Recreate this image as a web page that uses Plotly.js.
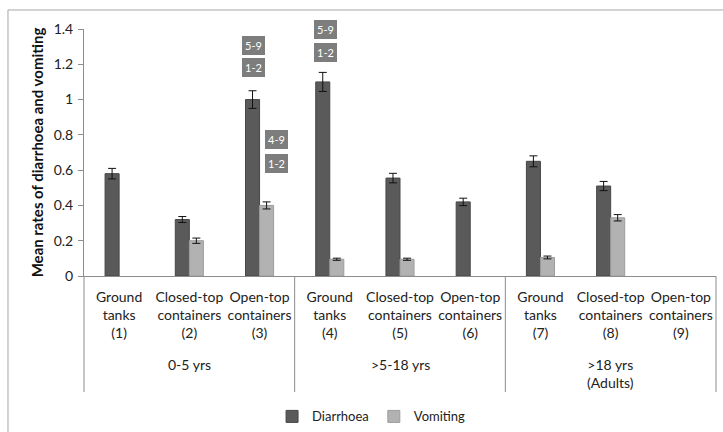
<!DOCTYPE html>
<html><head><meta charset="utf-8">
<script src="https://cdn.plot.ly/plotly-3.0.1.min.js"></script>
<style>html,body{margin:0;padding:0;background:#fff}#chart{width:723px;height:432px}</style>
</head><body><div id="chart"></div>
<script>
// ---- data ----
const categories = [
  "Ground<br>tanks<br>(1)", "Closed-top<br>containers<br>(2)", "Open-top<br>containers<br>(3)",
  "Ground<br>tanks<br>(4)", "Closed-top<br>containers<br>(5)", "Open-top<br>containers<br>(6)",
  "Ground<br>tanks<br>(7)", "Closed-top<br>containers<br>(8)", "Open-top<br>containers<br>(9)"
];
const groups = ["0-5 yrs", ">5-18 yrs", ">18 yrs<br>(Adults)"];
const groupSize = 3;
const diarrhoea    = [0.58, 0.32, 1.00, 1.10, 0.555, 0.42, 0.65, 0.51, null];
const diarrhoeaErr = [0.03, 0.017, 0.05, 0.054, 0.027, 0.021, 0.031, 0.026, null];
const vomiting     = [null, 0.20, 0.40, 0.095, 0.095, null, 0.105, 0.33, null];
const vomitingErr  = [null, 0.015, 0.02, 0.006, 0.006, null, 0.008, 0.018, null];
const seriesNames = ["Diarrhoea", "Vomiting"];
const sigLabels = [
  {cat: 3, series: 0, texts: ["5-9", "1-2"]},
  {cat: 4, series: 0, texts: ["5-9", "1-2"]},
  {cat: 3, series: 1, texts: ["4-9", "1-2"]}
];

// ---- chart ----
const FONT = "Lato, 'Open Sans', sans-serif";
const xIdx = categories.map((_, i) => i + 1);
const bargap = 0.6;
const barHalf = (1 - bargap) / 4; // offset of each bar centre from the category centre
const xRange = [0.5, categories.length + 0.5];
const toPaperX = v => (v - xRange[0]) / (xRange[1] - xRange[0]);

const traces = [
  {type: 'bar', name: seriesNames[0], x: xIdx, y: diarrhoea,
   marker: {color: '#5a5a5a', line: {color: '#474747', width: 1}},
   error_y: {type: 'data', array: diarrhoeaErr, visible: true, color: '#111', thickness: 1, width: 4}},
  {type: 'bar', name: seriesNames[1], x: xIdx, y: vomiting,
   marker: {color: '#b2b2b2', line: {color: '#9c9c9c', width: 1}},
   error_y: {type: 'data', array: vomitingErr, visible: true, color: '#111', thickness: 1, width: 4}}
];

// label placement (y in data units, horizontal nudge in px)
const sigY = [[1.304, 1.18], [1.395, 1.264], [0.771, 0.635]];
const sigShift = [1, 3, 10];
const annotations = [];
sigLabels.forEach((s, k) => {
  s.texts.forEach((t, j) => {
    annotations.push({
      x: s.cat + (s.series === 0 ? -barHalf : barHalf), y: sigY[k][j], xshift: sigShift[k],
      xref: 'x', yref: 'y', text: t, showarrow: false,
      font: {family: FONT, size: 11, color: '#ffffff'},
      bgcolor: '#7d7d7d', bordercolor: '#7d7d7d', borderwidth: 1, borderpad: 2,
      xanchor: 'center', yanchor: 'middle'
    });
  });
});
groups.forEach((g, i) => {
  const mid = i * groupSize + (groupSize + 1) / 2;
  annotations.push({
    x: toPaperX(mid), y: -0.315, xref: 'paper', yref: 'paper', text: g, showarrow: false,
    font: {family: FONT, size: 14, color: '#222'}, xanchor: 'center', yanchor: 'top', align: 'center'
  });
});

const shapes = [];
for (let i = 0; i <= groups.length; i++) {
  const xb = toPaperX(i * groupSize + 0.5);
  shapes.push({type: 'line', xref: 'paper', yref: 'paper', x0: xb, x1: xb, y0: 0, y1: -0.47,
               line: {color: '#8c8c8c', width: 1}});
}
shapes.push({type: 'rect', xref: 'paper', yref: 'paper', x0: -0.1203, x1: 1.03, y0: -0.7, y1: 1.077,
             line: {color: '#a6a6a6', width: 1}, layer: 'below'});

const layout = {
  width: 723, height: 432,
  margin: {l: 84, r: 7, t: 29, b: 156, autoexpand: false},
  paper_bgcolor: '#fff', plot_bgcolor: '#fff',
  font: {family: FONT, size: 13, color: '#222'},
  barmode: 'group', bargap: bargap, bargroupgap: 0,
  showlegend: true,
  legend: {orientation: 'h', x: 0.455, xanchor: 'center', y: 0.036, yref: 'container', yanchor: 'middle',
           font: {family: FONT, size: 13, color: '#222'}, itemwidth: 30, traceorder: 'normal'},
  xaxis: {range: xRange, tickvals: xIdx, ticktext: categories, showline: true, linecolor: '#8c8c8c',
          linewidth: 1, ticks: '', showgrid: false, zeroline: false, tickangle: 0, ticklabelstandoff: 8,
          automargin: false, tickfont: {family: FONT, size: 14, color: '#222'}},
  yaxis: {range: [0, 1.4], dtick: 0.2, showline: true, linecolor: '#8c8c8c', linewidth: 1,
          ticks: 'outside', ticklen: 5, tickcolor: '#8c8c8c', showgrid: false, zeroline: false,
          ticklabelstandoff: 2, automargin: false, tickfont: {family: FONT, size: 14, color: '#222'},
          title: {text: 'Mean rates of diarrhoea and vomiting', font: {family: FONT, size: 15, color: '#111', weight: 'bold'}, standoff: 6}},
  annotations: annotations,
  shapes: shapes
};
Plotly.newPlot('chart', traces, layout, {displayModeBar: false, staticPlot: true});
</script></body></html>
